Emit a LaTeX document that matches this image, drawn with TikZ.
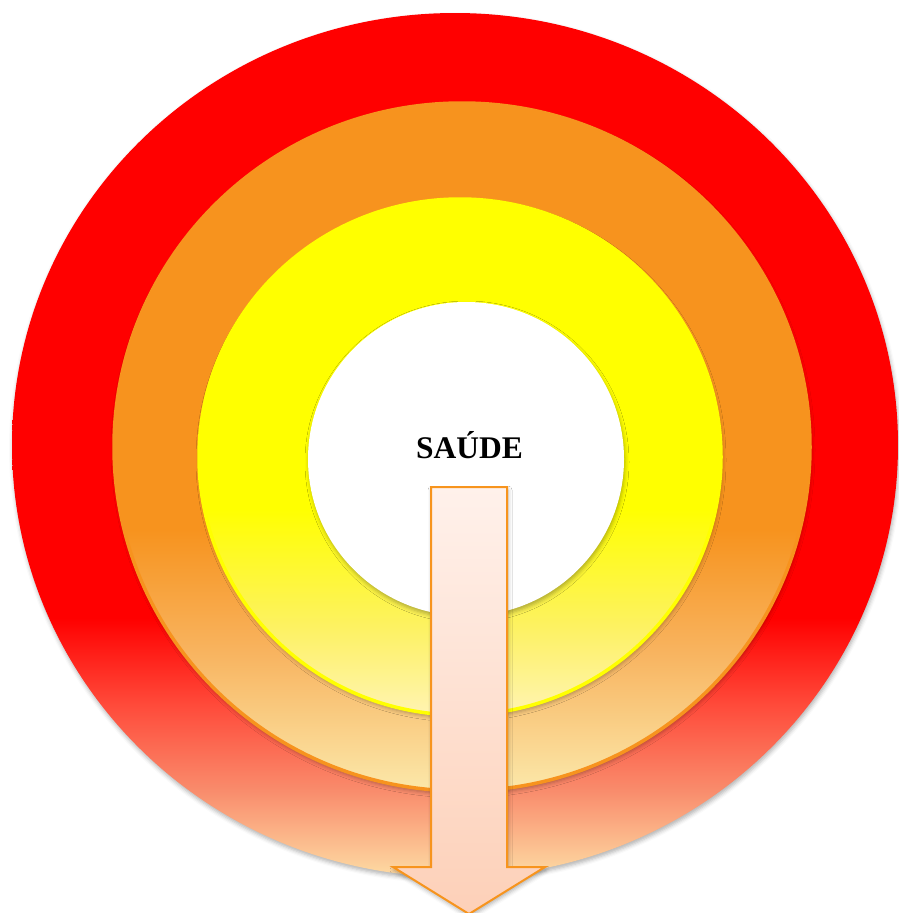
\documentclass[tikz,border=0pt]{standalone}
\usepackage{fontspec}
\setmainfont{Liberation Serif}
\usetikzlibrary{shadows.blur}
\definecolor{cred}{HTML}{FF0000}
\definecolor{credmid}{HTML}{FF4A3A}
\definecolor{csalmon}{HTML}{F98C6C}
\definecolor{cpalered}{HTML}{FDDCA4}
\definecolor{corange}{HTML}{F7931E}
\definecolor{corangemid}{HTML}{F8B460}
\definecolor{cpaleorange}{HTML}{FBE8AA}
\definecolor{cyellow}{HTML}{FFFF00}
\definecolor{cyellowmid}{HTML}{FDF25E}
\definecolor{cpaleyellow}{HTML}{FFF3B2}
\definecolor{carrowtop}{HTML}{FFF1EB}
\definecolor{carrowbot}{HTML}{FDD0B8}
\definecolor{carrowline}{HTML}{F7941D}
\pgfdeclareverticalshading{redsh}{100bp}{color(0bp)=(cpalered); color(25bp)=(cpalered); color(30bp)=(csalmon); color(35bp)=(credmid); color(40bp)=(cred); color(100bp)=(cred)}
\pgfdeclareverticalshading{orangesh}{100bp}{color(0bp)=(cpaleorange); color(25bp)=(cpaleorange); color(35bp)=(corangemid); color(44bp)=(corange); color(100bp)=(corange)}
\pgfdeclareverticalshading{yellowsh}{100bp}{color(0bp)=(cpaleyellow); color(25bp)=(cpaleyellow); color(34bp)=(cyellowmid); color(45bp)=(cyellow); color(100bp)=(cyellow)}
\begin{document}
\begin{tikzpicture}[x=1pt,y=-1pt,
  softshadow/.style={blur shadow={shadow xshift=1pt, shadow yshift=-3pt, shadow blur radius=4pt, shadow opacity=30}},
  ringstroke/.style={line width=3.5pt},
  label/.style={font=\bfseries\fontsize{31.5}{31.5}\selectfont, text=black, inner sep=0pt}]
\useasboundingbox (0,0) rectangle (899,913);
% red outer disc
\shade[shading=redsh, softshadow] (455,445) ellipse [x radius=443pt, y radius=432pt];
% orange disc
\shade[shading=orangesh, softshadow, draw=corange, ringstroke] (462,447) ellipse [x radius=348pt, y radius=344pt];
% yellow disc
\shade[shading=yellowsh, softshadow, draw=cyellow, ringstroke] (460,457) ellipse [x radius=261pt, y radius=258pt];
% white disc
\fill[white, softshadow] (466,459) ellipse [x radius=158pt, y radius=157pt];
% label
\node[label, anchor=base] (saude) at (469.5,458) {SAÚDE};
% arrow
\shade[top color=carrowtop, bottom color=carrowbot, draw=carrowline, line width=2pt, line join=miter, softshadow]
  (431,487) -- (507,487) -- (507,867) -- (545,867) -- (469,914) -- (393,867) -- (431,867) -- cycle;
\end{tikzpicture}
\end{document}
